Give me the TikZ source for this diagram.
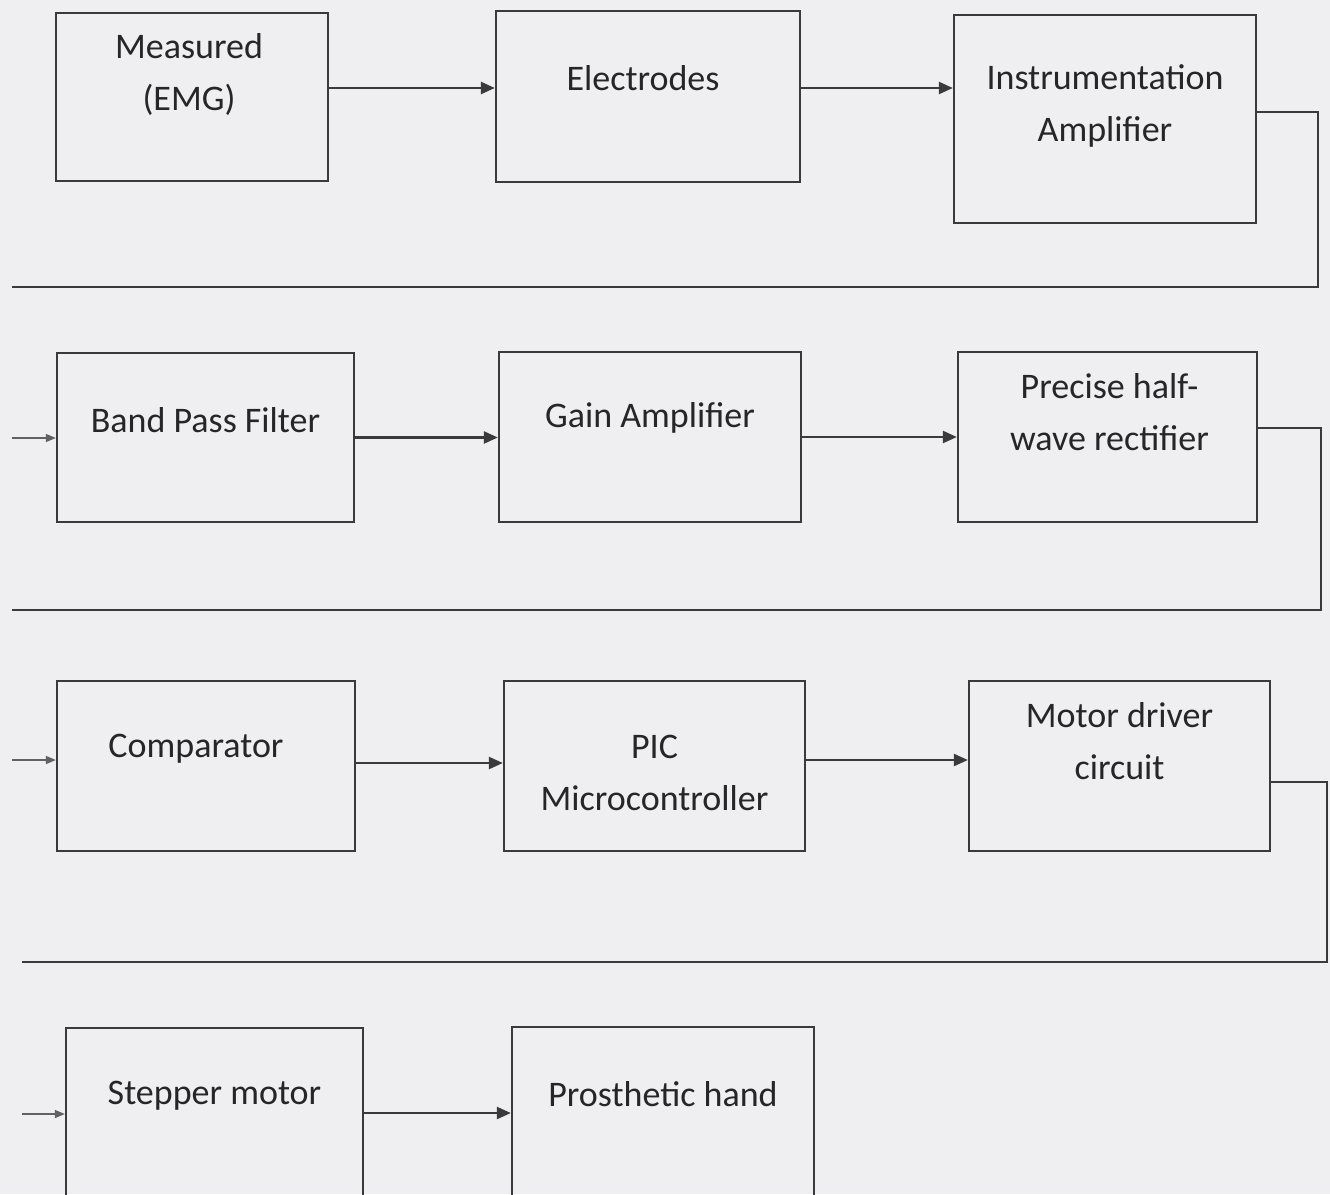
\documentclass[tikz,border=0pt]{standalone}
\usepackage{fontspec}
\setmainfont{Carlito}
\usepackage{xcolor}
\usetikzlibrary{arrows.meta, positioning, calc}
\definecolor{PageGray}{HTML}{EFEEF0}
\definecolor{InkGray}{HTML}{3A3A3C}
\definecolor{TextGray}{HTML}{262628}

\begin{document}
\begin{tikzpicture}[x=1pt, y=-1pt,
  box/.style={draw=InkGray, line width=2.3pt, minimum width=300pt, minimum height=170pt, inner sep=0pt},
  lbl/.style={text=TextGray, align=center, font=\fontsize{36}{52}\selectfont},
  arr/.style={-{Triangle[length=14pt, width=12pt]}, draw=InkGray, line width=2.3pt},
  ret/.style={draw=InkGray, line width=2.3pt},
  feed/.style={-{Triangle[length=10pt, width=8pt]}, draw=InkGray!80, line width=1.4pt}
]
\path[use as bounding box] (0,0) rectangle (1330,1194);
\clip (0,0) rectangle (1330,1194);
\fill[PageGray] (0,0) rectangle (1330,1194);

\node[box, minimum width=272pt, minimum height=168pt] (emg) at (192,97) {};
\node[box, minimum width=304pt, minimum height=171pt] (elec) at (648,96.5) {};
\node[box, minimum width=302pt, minimum height=208pt] (instr) at (1105,119) {};
\node[box, minimum width=297pt, minimum height=169pt] (bpf) at (205.5,437.5) {};
\node[box, minimum width=302pt] (gain) at (650,437) {};
\node[box, minimum width=299pt] (rect) at (1107.5,437) {};
\node[box, minimum width=298pt] (comp) at (206,766) {};
\node[box, minimum width=301pt] (pic) at (654.5,766) {};
\node[box, minimum width=301pt] (motor) at (1119.5,766) {};
\node[box, minimum width=297pt] (step) at (214.5,1113) {};
\node[box, minimum width=302pt] (hand) at (663,1112) {};

\node[lbl] (emgtxt) at ([xshift=-3pt, yshift=23pt]emg.center) {Measured\\(EMG)};
\node[lbl] (electxt) at ([xshift=-5pt, yshift=18pt]elec.center) {Electrodes};
\node[lbl] (instrtxt) at ([yshift=13pt]instr.center) {Instrumentation\\Amplifier};
\node[lbl] (bpftxt) at ([yshift=17pt]bpf.center) {Band Pass Filter};
\node[lbl] (gaintxt) at ([yshift=19pt]gain.center) {Gain Amplifier};
\node[lbl] (recttxt) at ([xshift=2pt, yshift=25pt]rect.center) {Precise half-\\wave rectifier};
\node[lbl] (comptxt) at ([xshift=-10pt, yshift=17pt]comp.center) {Comparator};
\node[lbl] (pictxt) at ([yshift=-7pt]pic.center) {PIC\\Microcontroller};
\node[lbl] (motortxt) at ([yshift=25pt]motor.center) {Motor driver\\circuit};
\node[lbl] (steptxt) at ([yshift=17pt]step.center) {Stepper motor};
\node[lbl] (handtxt) at ([yshift=18pt]hand.center) {Prosthetic hand};

\coordinate (c1) at (1318,287);
\coordinate (t1) at (12,287);
\coordinate (c2) at (1321,610);
\coordinate (t2) at (12,610);
\coordinate (c3) at (1327,962);
\coordinate (t3) at (22,962);
\coordinate (s1) at (12,438);
\coordinate (s2) at (12,760);
\coordinate (s3) at (22,1114);

\draw[arr] ([yshift=9pt]emg.east) -- ([yshift=9pt]emg.east -| elec.west);
\draw[arr] ([yshift=8.5pt]elec.east) -- ([yshift=8.5pt]elec.east -| instr.west);
\draw[ret] ([yshift=7pt]instr.east) -| (c1) -- (t1);
\draw[feed] (s1) -- (s1 -| bpf.west);
\draw[arr] (bpf.east) -- (bpf.east -| gain.west);
\draw[arr] (gain.east) -- (rect.west);
\draw[ret] ([yshift=9pt]rect.east) -| (c2) -- (t2);
\draw[feed] (s2) -- (s2 -| comp.west);
\draw[arr] ([yshift=3pt]comp.east) -- ([yshift=3pt]pic.west);
\draw[arr] ([yshift=6pt]pic.east) -- ([yshift=6pt]motor.west);
\draw[ret] ([yshift=-16pt]motor.east) -| (c3) -- (t3);
\draw[feed] (s3) -- (s3 -| step.west);
\draw[arr] (step.east) -- (step.east -| hand.west);
\end{tikzpicture}
\end{document}
